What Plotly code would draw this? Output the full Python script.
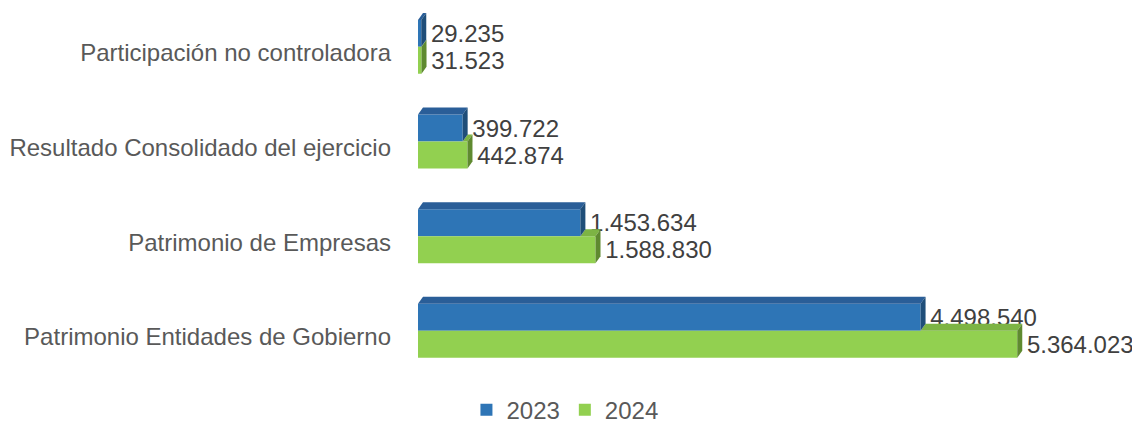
import plotly.graph_objects as go

categories = ["Patrimonio Entidades de Gobierno", "Patrimonio de Empresas",
              "Resultado Consolidado del ejercicio", "Participación no controladora"]
values_2023 = [4498540, 1453634, 399722, 29235]
values_2024 = [5364023, 1588830, 442874, 31523]
series_names = ["2023", "2024"]

BLUE, BLUE_TOP, BLUE_SIDE = "#2E75B6", "#2A5E98", "#1F4E79"
GREEN, GREEN_TOP, GREEN_SIDE = "#92D050", "#7DB444", "#5F8A30"
W = 0.285         # bar thickness (category units)
DX = 44700        # 3D depth in x (data units)
DY = 0.074        # 3D depth in y (category units)
ypos = list(range(len(categories)))

fig = go.Figure()
fig.add_trace(go.Bar(y=ypos, x=values_2023, orientation="h", name=series_names[0],
                     marker=dict(color=BLUE, line=dict(width=0)), offset=0, width=W,
                     text=values_2023, texttemplate=" %{x:,}", textposition="outside",
                     textfont=dict(size=24, color="#404040"), cliponaxis=False))
fig.add_trace(go.Bar(y=ypos, x=values_2024, orientation="h", name=series_names[1],
                     marker=dict(color=GREEN, line=dict(width=0)), offset=-W, width=W,
                     text=values_2024, texttemplate=" %{x:,}", textposition="outside",
                     textfont=dict(size=24, color="#404040"), cliponaxis=False))

def poly(pts):
    return "M " + " L ".join(f"{x},{y}" for x, y in pts) + " Z"

shapes = []
for i, (vb, vg) in enumerate(zip(values_2023, values_2024)):
    gb, gt = i - W, i
    shapes.append(dict(type="path", xref="x", yref="y", line=dict(width=0), fillcolor=GREEN_TOP,
                       path=poly([(min(vb, vg), gt), (vg, gt), (vg + DX, gt + DY), (min(vb, vg) + DX, gt + DY)])))
    shapes.append(dict(type="path", xref="x", yref="y", line=dict(width=0), fillcolor=GREEN_SIDE,
                       path=poly([(vg, gb), (vg, gt), (vg + DX, gt + DY), (vg + DX, gb + DY)])))
    bb, bt = i, i + W
    shapes.append(dict(type="path", xref="x", yref="y", line=dict(width=0), fillcolor=BLUE_TOP,
                       path=poly([(0, bt), (vb, bt), (vb + DX, bt + DY), (DX, bt + DY)])))
    shapes.append(dict(type="path", xref="x", yref="y", line=dict(width=0), fillcolor=BLUE_SIDE,
                       path=poly([(vb, bb), (vb, bt), (vb + DX, bt + DY), (vb + DX, bb + DY)])))

fig.update_layout(
    width=1132, height=415,
    margin=dict(l=410, r=7, t=1, b=35),
    paper_bgcolor="white", plot_bgcolor="white",
    separators=",.",
    font=dict(family="Liberation Sans, Arial, sans-serif", color="#595959"),
    shapes=shapes,
    xaxis=dict(range=[0, 6400000], visible=False, showgrid=False, zeroline=False, automargin=False),
    yaxis=dict(range=[-0.6, 3.4], tickvals=ypos, ticktext=categories, showgrid=False,
               zeroline=False, showline=False, ticks="", ticklabelstandoff=26, automargin=False,
               ticklabelshift=6, tickfont=dict(size=24, color="#595959")),
    showlegend=True,
    legend=dict(orientation="h", xref="container", yref="container", x=0.492, y=0.031,
                xanchor="center", yanchor="middle", font=dict(size=24, color="#595959"),
                itemwidth=30, traceorder="normal", tracegroupgap=0),
    bargap=0.4,
)

fig.write_html("out.html")
